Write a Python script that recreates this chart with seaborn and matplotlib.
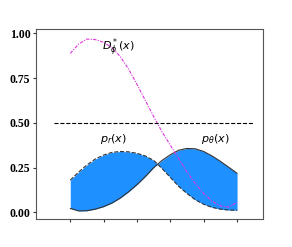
import numpy as np
import pandas as pd
import matplotlib
matplotlib.use("Agg")
import matplotlib.pyplot as plt
import seaborn as sns

# positions along x (tick units)
x_pts = [0, 0.25, 0.5, 0.75, 1, 1.25, 1.5, 1.75, 2, 2.25, 2.5,
         2.75, 3, 3.25, 3.5, 3.75, 4, 4.25, 4.5, 4.75, 5]

# real distribution p_r(x)
p_real = [0.18, 0.225, 0.265, 0.298, 0.32, 0.335, 0.34, 0.338, 0.33, 0.315, 0.29,
          0.245, 0.195, 0.145, 0.105, 0.07, 0.045, 0.028, 0.018, 0.013, 0.012]

# generated distribution p_theta(x)
p_gen = [0.022, 0.008, 0.009, 0.018, 0.032, 0.052, 0.08, 0.115, 0.155, 0.2, 0.25,
         0.29, 0.322, 0.347, 0.357, 0.355, 0.34, 0.315, 0.285, 0.252, 0.218]

# optimal discriminator D*(x)
d_opt = [0.888, 0.94, 0.968, 0.965, 0.95, 0.92, 0.87, 0.8, 0.715, 0.625, 0.535,
         0.45, 0.375, 0.3, 0.225, 0.16, 0.105, 0.062, 0.036, 0.029, 0.056]

df = pd.DataFrame({"x": x_pts, "p_r": p_real, "p_g": p_gen, "d": d_opt})

sns.set_style("ticks")
plt.rcParams["font.family"] = ["Liberation Serif", "DejaVu Serif"]
plt.rcParams["mathtext.fontset"] = "dejavusans"
plt.rcParams["text.color"] = "black"

fig, ax = plt.subplots(figsize=(2.92, 2.47), dpi=100)
fig.subplots_adjust(left=0.123, right=0.901, bottom=0.112, top=0.881)

ax.fill_between(df["x"], df["p_r"], df["p_g"], color="#1e90ff", lw=0)
sns.lineplot(data=df, x="x", y="p_r", ax=ax, color="#333333", lw=0.8, linestyle="--")
sns.lineplot(data=df, x="x", y="p_g", ax=ax, color="#333333", lw=0.8)
sns.lineplot(data=df, x="x", y="d", ax=ax, color="#dd33dd", lw=0.8,
             dashes=False)
ax.lines[-1].set_dashes((3, 1.2, 1, 1.2))

ax.hlines(0.5, -0.5, 5.5, color="black", lw=0.8, linestyles="--")

ax.text(1.45, 0.92, r"$D^*_\phi(x)$", fontsize=8, ha="center", va="center", color="black")
ax.text(1.3, 0.41, r"$p_r(x)$", fontsize=8, ha="center", va="center", color="black")
ax.text(4.35, 0.41, r"$p_\theta(x)$", fontsize=8, ha="center", va="center", color="black")

ax.set_xlim(-1.03, 5.78)
ax.set_ylim(-0.039, 1.022)
ax.set_xticks([0, 1, 2, 3, 4, 5])
ax.set_xticklabels([])
ax.set_yticks([0, 0.25, 0.5, 0.75, 1.0])
ax.set_yticklabels(["0.00", "0.25", "0.50", "0.75", "1.00"], fontweight="bold", fontsize=8.5)
ax.tick_params(length=2.5, width=0.8, colors="#333333", labelcolor="black", pad=1.5)
ax.set_xlabel("")
ax.set_ylabel("")
for s in ax.spines.values():
    s.set_color("#555555")
    s.set_linewidth(0.8)

fig.savefig("out.png", dpi=100)
